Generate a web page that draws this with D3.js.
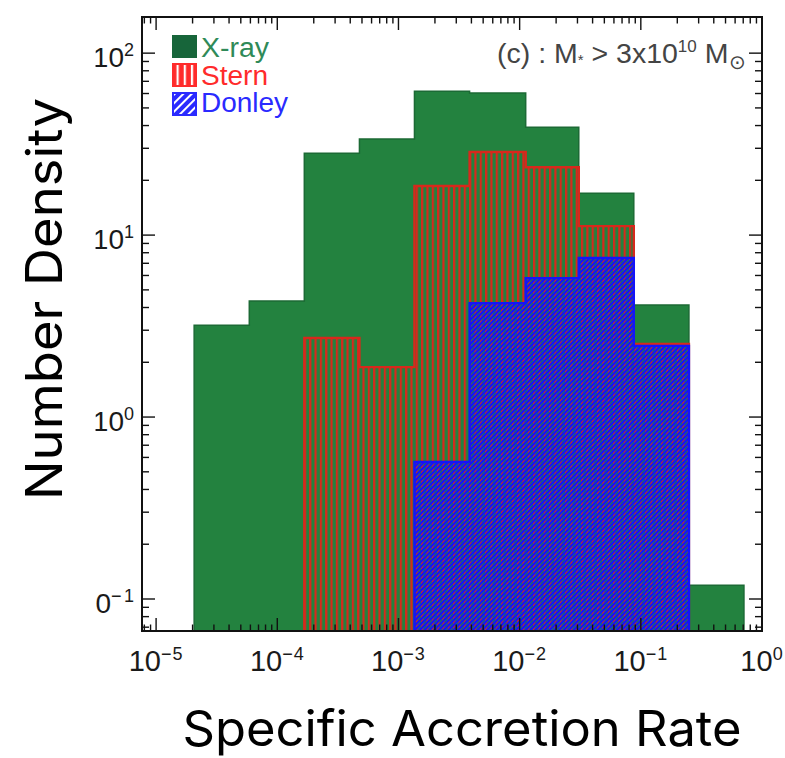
<!DOCTYPE html>
<html><head><meta charset="utf-8">
<script src="https://cdn.jsdelivr.net/npm/d3@7"></script>
<style>body{margin:0;background:#fff}</style>
</head><body>
<svg id="c" width="785" height="758" xmlns="http://www.w3.org/2000/svg"></svg>
<script>
// ---- data ----
const binEdgesLog = [-4.686, -4.231, -3.777, -3.322, -2.868, -2.413, -1.950, -1.512, -1.058, -0.603, -0.149];
const xrayValues   = [3.2, 4.34, 28.2, 33.7, 61.8, 60.3, 39.2, 17.0, 4.13, 0.119];
const sternValues  = [null, null, 2.72, 1.88, 18.6, 28.6, 23.6, 11.2, 2.52, null];
const donleyValues = [null, null, null, null, 0.566, 4.23, 5.8, 7.48, 2.46, null];
const seriesNames  = ["X-ray", "Stern", "Donley"];
const xTickExps = [-5, -4, -3, -2, -1, 0];
const yTickExps = [-1, 0, 1, 2];
const annotation = "(c) : M";

// ---- layout ----
const L = 142, R = 762, T = 17, B = 631;
const svg = d3.select("#c");
const x = d3.scaleLog().domain([7.65e-6, 1]).range([L, R]);
const y = d3.scaleLog().domain([0.0667, 158]).range([B, T]);
const edges = binEdgesLog.map(e => Math.pow(10, e));
const expText = e => (e < 0 ? "\u2212" + (-e) : String(e));

const defs = svg.append("defs");
defs.append("clipPath").attr("id", "plotClip").append("rect")
  .attr("x", L).attr("y", T).attr("width", R - L).attr("height", B - T);
defs.append("clipPath").attr("id", "cropClip").append("rect")
  .attr("x", 95.5).attr("y", 0).attr("width", 700).attr("height", 758);

const RED = "#d8281c", BLUE = "#1414f8", GREEN = "#23823f";
// red vertical stripes (transparent gaps)
const pr = defs.append("pattern").attr("id", "redV").attr("patternUnits", "userSpaceOnUse")
  .attr("width", 5.33).attr("height", 10);
pr.append("rect").attr("x", 0).attr("y", 0).attr("width", 2.2).attr("height", 10).attr("fill", RED);
// blue diagonal stripes
const pb = defs.append("pattern").attr("id", "blueD").attr("patternUnits", "userSpaceOnUse")
  .attr("width", 3.4).attr("height", 10).attr("patternTransform", "rotate(45)");
pb.append("rect").attr("x", 0).attr("y", 0).attr("width", 2.3).attr("height", 10).attr("fill", BLUE);
// legend patterns
const lr = defs.append("pattern").attr("id", "legRed").attr("patternUnits", "userSpaceOnUse")
  .attr("width", 7.2).attr("height", 10).attr("x", 173);
lr.append("rect").attr("width", 7.2).attr("height", 10).attr("fill", "#ff2b2b");
lr.append("rect").attr("x", 3.5).attr("width", 2.2).attr("height", 10).attr("fill", "#fff");
const lb = defs.append("pattern").attr("id", "legBlue").attr("patternUnits", "userSpaceOnUse")
  .attr("width", 6).attr("height", 10).attr("patternTransform", "rotate(45)");
lb.append("rect").attr("width", 6).attr("height", 10).attr("fill", "#2a2aff");
lb.append("rect").attr("x", 3).attr("width", 2).attr("height", 10).attr("fill", "#fff");

// ---- histograms ----
function stepPoints(vals) {
  const idx = vals.map((v, i) => v == null ? -1 : i).filter(i => i >= 0);
  const s = idx[0], e = idx[idx.length - 1];
  const floor = 0.02;
  const pts = [[edges[s], floor]];
  for (let i = s; i <= e; i++) pts.push([edges[i], vals[i]]);
  pts.push([edges[e + 1], vals[e]]);
  pts.push([edges[e + 1], floor]);
  return pts;
}
const line = d3.line().x(d => x(d[0])).y(d => y(d[1])).curve(d3.curveStepAfter);
const plot = svg.append("g").attr("clip-path", "url(#plotClip)");
const series = [
  {vals: xrayValues, fill: GREEN, stroke: "#1c6a35", sw: 1.5},
  {vals: sternValues, fill: "url(#redV)", stroke: RED, sw: 2.4},
  {vals: donleyValues, fill: "url(#blueD)", stroke: BLUE, sw: 2.4}
];
series.forEach(sr => {
  const d = line(stepPoints(sr.vals));
  plot.append("path").attr("d", d + "Z").attr("fill", sr.fill).attr("stroke", "none");
  plot.append("path").attr("d", d).attr("fill", "none").attr("stroke", sr.stroke)
    .attr("stroke-width", sr.sw);
});

// ---- ticks (IDL style, inward on all four sides) ----
const tg = svg.append("g").attr("stroke", "#111").attr("stroke-width", 1.4);
const xMinor = [], yMinor = [];
for (let p = -6; p <= 0; p++) for (let k = 2; k <= 9; k++) {
  const v = k * Math.pow(10, p);
  if (v > x.domain()[0] && v < x.domain()[1]) xMinor.push(v);
}
for (let p = -2; p <= 2; p++) for (let k = 2; k <= 9; k++) {
  const v = k * Math.pow(10, p);
  if (v > y.domain()[0] && v < y.domain()[1]) yMinor.push(v);
}
const xMajor = xTickExps.map(e => Math.pow(10, e));
const yMajor = yTickExps.map(e => Math.pow(10, e));
function xt(v, len) {
  tg.append("line").attr("x1", x(v)).attr("x2", x(v)).attr("y1", B).attr("y2", B - len);
  tg.append("line").attr("x1", x(v)).attr("x2", x(v)).attr("y1", T).attr("y2", T + len);
}
function yt(v, len) {
  tg.append("line").attr("y1", y(v)).attr("y2", y(v)).attr("x1", L).attr("x2", L + len);
  tg.append("line").attr("y1", y(v)).attr("y2", y(v)).attr("x1", R).attr("x2", R - len);
}
xMinor.forEach(v => xt(v, 6.5));
xMajor.forEach(v => xt(v, 13));
yMinor.forEach(v => yt(v, 7));
yMajor.forEach(v => yt(v, 13));

svg.append("rect").attr("x", L).attr("y", T).attr("width", R - L).attr("height", B - T)
  .attr("fill", "none").attr("stroke", "#111").attr("stroke-width", 2);

// ---- tick labels ----
const font = "Liberation Sans, Arial, Helvetica, sans-serif";
const xl = svg.append("g").attr("font-family", font).attr("fill", "#1a1a1a");
xTickExps.forEach(e => {
  const t = xl.append("text").attr("x", x(Math.pow(10, e))).attr("y", 671)
    .attr("text-anchor", "middle").attr("font-size", 29);
  t.append("tspan").text("10");
  t.append("tspan").attr("font-size", 18).attr("dy", -11).attr("letter-spacing", 1).text(expText(e));
});
const yl = svg.append("g").attr("font-family", font).attr("fill", "#1a1a1a")
  .attr("clip-path", "url(#cropClip)");
yTickExps.forEach(e => {
  const t = yl.append("text").attr("x", 136.5).attr("y", y(Math.pow(10, e)) + 14)
    .attr("text-anchor", "end").attr("font-size", 28);
  t.append("tspan").text("10");
  t.append("tspan").attr("font-size", 18).attr("dy", -11).attr("letter-spacing", 2.5).text(expText(e));
});

// ---- legend ----
const lg = svg.append("g").attr("font-family", font).attr("font-size", 27);
lg.append("rect").attr("x", 172).attr("y", 35).attr("width", 25).attr("height", 23).attr("fill", "#17653a");
lg.append("rect").attr("x", 173).attr("y", 64).attr("width", 23).attr("height", 22)
  .attr("fill", "url(#legRed)").attr("stroke", "#ff2b2b").attr("stroke-width", 2);
lg.append("rect").attr("x", 173).attr("y", 93).attr("width", 23).attr("height", 22)
  .attr("fill", "url(#legBlue)").attr("stroke", "#2a2aff").attr("stroke-width", 2);
const legColors = ["#2f8a58", "#ff2b2b", "#2a2aff"];
seriesNames.forEach((n, i) => {
  lg.append("text").attr("x", 201).attr("y", 57 + i * 27.5).attr("fill", legColors[i])
    .attr("textLength", [68, 67, 87][i]).attr("lengthAdjust", "spacingAndGlyphs").text(n);
});

// ---- annotation ----
const an = svg.append("text").attr("x", 497).attr("y", 63).attr("font-family", font)
  .attr("font-size", 28.5).attr("fill", "#444");
an.append("tspan").text(annotation);
an.append("tspan").attr("font-size", 15).attr("dy", 2).text("*");
an.append("tspan").attr("dy", -2).text(" > 3x10");
an.append("tspan").attr("font-size", 17).attr("dy", -11).text("10");
an.append("tspan").attr("dy", 11).text(" M");
an.append("tspan").attr("font-size", 20).attr("dy", 6).attr("dx", 1).text("⊙");

// ---- axis titles ----
const tf = "Inter, 'Noto Sans', sans-serif";
svg.append("text").attr("transform", "translate(62,299) rotate(-90)")
  .attr("text-anchor", "middle").attr("font-family", tf).attr("font-size", 50)
  .attr("textLength", 402).attr("lengthAdjust", "spacingAndGlyphs")
  .attr("fill", "#000").text("Number Density");
svg.append("text").attr("x", 462).attr("y", 746)
  .attr("text-anchor", "middle").attr("font-family", tf).attr("font-size", 49)
  .attr("textLength", 559).attr("lengthAdjust", "spacingAndGlyphs")
  .attr("fill", "#000").text("Specific Accretion Rate");
</script>
</body></html>
